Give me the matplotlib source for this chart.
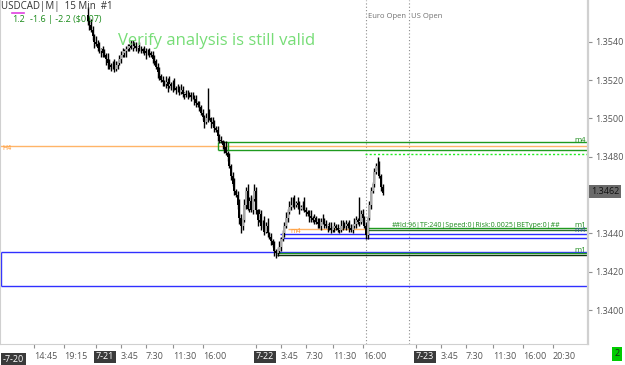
"""
USDCAD M15 chart with trade levels, MT4 style.
"""

import numpy as np
import matplotlib.pyplot as plt

plt.rcParams['font.family'] = ['Open Sans', 'DejaVu Sans']

# prices are pips above BASE; bar times are hours from 7-20 00:00
BASE = 1.3400
first_bar_hour = 22.75
first_open = 154
closes = [
    151, 149, 146, 143, 140, 139, 137, 135, 136, 134,
    133, 131, 129, 128, 127, 128, 126, 128, 129, 131,
    133, 134, 135, 136, 137, 138, 137, 139, 138, 137,
    137, 136, 136, 135, 135, 134, 135, 134, 133, 131,
    130, 127, 124, 122, 120, 119, 118, 119, 117, 118,
    117, 118, 116, 115, 116, 114, 115, 113, 113, 112,
    113, 112, 111, 111, 110, 108, 107, 106, 103, 101,
    98, 100, 103, 100, 98, 97, 95, 94, 91, 89,
    88, 86, 85, 82, 80, 75, 70, 66, 62, 60,
    55, 48, 44, 47, 55, 62, 53, 57, 52, 58,
    62, 52, 47, 50, 44, 46, 41, 44, 40, 38,
    36, 34, 31, 30, 31, 33, 37, 40, 44, 48,
    51, 54, 55, 57, 55, 56, 55, 53, 54, 55,
    52, 51, 50, 49, 48, 47, 48, 46, 45, 44,
    46, 47, 45, 44, 44, 43, 42, 43, 44, 43,
    42, 42, 44, 45, 44, 45, 44, 43, 42, 44,
    45, 47, 46, 46, 50, 48, 44, 39, 48, 55,
    62, 66, 72, 75, 76, 70, 64, 61,
]
wick_up = [
    4, 2, 3, 2, 1, 3, 2, 3, 1, 2,
    2, 1, 3, 2, 1, 2, 3, 2, 1, 2,
    2, 3, 1, 2, 2, 1, 3, 2, 1, 2,
    1, 3, 2, 1, 3, 2, 1, 2, 1, 2,
    2, 1, 2, 3, 1, 2, 1, 3, 2, 4,
    1, 2, 3, 1, 2, 1, 3, 2, 1, 2,
    2, 1, 2, 3, 1, 2, 1, 2, 1, 2,
    1, 3, 13, 2, 1, 3, 2, 1, 2, 1,
    2, 1, 2, 3, 1, 2, 1, 2, 3, 1,
    2, 3, 2, 1, 3, 2, 4, 2, 3, 1,
    4, 2, 1, 3, 2, 1, 3, 2, 4, 1,
    2, 1, 2, 1, 2, 3, 1, 2, 2, 3,
    2, 3, 4, 2, 3, 1, 3, 2, 1, 2,
    4, 2, 1, 2, 3, 1, 2, 1, 2, 3,
    2, 3, 1, 2, 1, 2, 3, 1, 2, 1,
    2, 1, 3, 2, 1, 2, 1, 3, 2, 1,
    3, 2, 1, 13, 2, 3, 1, 2, 1, 2,
    2, 1, 2, 2, 4, 2, 1, 2,
]
wick_dn = [
    2, 3, 1, 2, 3, 1, 2, 1, 3, 2,
    1, 3, 3, 2, 2, 1, 2, 1, 2, 1,
    2, 1, 2, 3, 1, 2, 1, 2, 1, 2,
    3, 1, 2, 1, 2, 3, 1, 2, 1, 2,
    2, 1, 3, 2, 1, 2, 1, 2, 3, 1,
    2, 3, 1, 2, 1, 2, 1, 2, 3, 1,
    2, 1, 2, 1, 3, 2, 1, 2, 1, 2,
    3, 1, 2, 1, 3, 1, 2, 1, 3, 2,
    1, 2, 3, 1, 2, 1, 2, 1, 2, 1,
    2, 3, 4, 2, 1, 2, 1, 2, 1, 2,
    1, 2, 3, 1, 2, 1, 2, 1, 2, 1,
    2, 1, 3, 3, 2, 1, 2, 1, 2, 1,
    2, 1, 2, 1, 2, 1, 2, 3, 1, 2,
    1, 2, 1, 3, 2, 1, 2, 1, 2, 1,
    2, 1, 2, 1, 3, 1, 2, 1, 2, 1,
    1, 2, 1, 2, 1, 2, 1, 2, 1, 2,
    1, 2, 1, 2, 1, 2, 1, 2, 2, 1,
    2, 1, 2, 1, 2, 1, 2, 1,
]

tick_hours = [14.75, 19.25, 24, 27.75, 31.5, 35.5, 40, 48, 51.75, 55.5,
              59.5, 64, 72, 75.75, 79.5, 83.5, 88, 92.5]
tick_labels = ['14:45', '19:15', '7-21', '3:45', '7:30', '11:30', '16:00',
               '7-22', '3:45', '7:30', '11:30', '16:00', '7-23', '3:45',
               '7:30', '11:30', '16:00', '20:30']
price_ticks = [1.3400, 1.3420, 1.3440, 1.3460, 1.3480, 1.3500, 1.3520, 1.3540]

# levels drawn by the EA
h4_price = 1.34856
m4_top, m4_bottom, m4_start, m4_box_end = 1.34877, 1.34835, 42.25, 43.8
target_price, target_start = 1.34814, 64.4
entry_top, entry_bottom, entry_start = 1.34428, 1.34418, 64.6
m4_small, m4_small_start, m4_small_end = 1.34423, 52.8, 64.6
blue_levels, blue_start = [1.34397, 1.34376], 51.6
m1_green, m1_black, m1_start = 1.34300, 1.34290, 51.15
zone_top, zone_bottom = 1.34303, 1.34125
euro_open, us_open = 64.5, 71.0
last_price = 1.3462

x_min, x_max = 9.6, 97.8
y_min, y_max = 1.33823, 1.35618

fig = plt.figure(figsize=(6.25, 3.65), dpi=100)
ax = fig.add_axes([0, 21 / 365, 588 / 625, 344 / 365])
ax.set_xlim(x_min, x_max)
ax.set_ylim(y_min, y_max)

# candles
c = BASE + np.array(closes) / 1e4
o = np.concatenate([[BASE + first_open / 1e4], c[:-1]])
hi = np.maximum(o, c) + np.array(wick_up) / 1e4
lo = np.minimum(o, c) - np.array(wick_dn) / 1e4
t = first_bar_hour + 0.25 * np.arange(len(closes))
up = c >= o
ax.vlines(t, lo, hi, color='black', lw=1.0, zorder=3)
body = np.maximum(np.abs(c - o), 0.00004)
ax.bar(t[up], body[up], bottom=o[up], width=0.3, color='#a8a8a8', lw=0, zorder=4)
ax.bar(t[~up], body[~up], bottom=c[~up], width=0.3, color='black', lw=0, zorder=4)

# levels
ax.axhline(h4_price, color='#ffb468', lw=1, zorder=2)
ax.hlines([m4_top, m4_bottom], m4_start, x_max, color='#1f9a1f', lw=1, zorder=2)
ax.vlines([m4_start, m4_box_end], m4_bottom, m4_top, color='#1f9a1f', lw=1, zorder=2)
ax.hlines(target_price, target_start, x_max, color='#22ee22', lw=1, ls=(0, (1.5, 1.5)), zorder=2)
ax.hlines(m4_small, m4_small_start, m4_small_end, color='#ffb468', lw=1, zorder=2)
ax.hlines(entry_top, entry_start, x_max, color='#1f9a1f', lw=1, zorder=2)
ax.hlines(entry_bottom, entry_start, x_max, color='#2a6e2a', lw=1, zorder=2)
ax.hlines(blue_levels, blue_start, x_max, color='#2b2bff', lw=1, zorder=2)
ax.hlines([zone_top, zone_bottom], x_min + 0.1, x_max, color='#3030ff', lw=1, zorder=2)
ax.vlines(x_min + 0.12, zone_bottom, zone_top, color='#3030ff', lw=1, zorder=2)
ax.hlines(m1_green, m1_start, x_max, color='#1f9a1f', lw=1, zorder=2.5)
ax.hlines(m1_black, m1_start, x_max, color='#103010', lw=1, zorder=2.5)

# session lines
for h, name in [(euro_open, 'Euro Open'), (us_open, 'US Open')]:
    ax.axvline(h, color='#8c8c8c', lw=0.8, ls=(0, (1, 2)), zorder=1)
    ax.text(h + 0.3, y_max - 0.00088, name, fontsize=5.5, color='#707070', va='center')

# labels
green = '#1a8a1a'
ax.text(1 / 588, 1 - 6 / 344, 'USDCAD|M|  15 Min  #1', transform=ax.transAxes,
        fontsize=7, color='#333333', va='center')
ax.text(12 / 588, 1 - 19 / 344, '1.2', transform=ax.transAxes, fontsize=6.5, color=green, va='center')
ax.text(30 / 588, 1 - 19 / 344, '-1.6 | -2.2 ($0.07)', transform=ax.transAxes,
        fontsize=6.5, color=green, va='center')
ax.plot([12 / 588, 24 / 588], [1 - 13 / 344] * 2, transform=ax.transAxes, color='#e040e0', lw=1.2)
ax.text(118 / 588, 1 - 41 / 344, 'Verify analysis is still valid', transform=ax.transAxes,
        fontsize=12, color='#77dd77', va='center')
ax.text(x_min + 0.3, h4_price - 0.00011, 'H4', fontsize=5, color='#ff9933', va='center')
ax.text(m4_small_start + 0.3, m4_small - 0.00011, 'm4', fontsize=5, color='#ff9933', va='center')
ax.text(97.5, m4_top + 0.00009, 'm4', fontsize=5.5, color=green, ha='right', va='center')
ax.text(97.5, entry_top + 0.00012, 'm1', fontsize=5.5, color=green, ha='right', va='center')
ax.text(97.5, entry_bottom - 0.00004, 'm4', fontsize=5.5, color='#3050a0', ha='right', va='center')
ax.text(97.5, m1_green + 0.00011, 'm1', fontsize=5.5, color=green, ha='right', va='center')
ax.text(93.6, entry_top + 0.00014, '##Id:96|TF:240|Speed:0|Risk:0.0025|BEType:0|##',
        fontsize=5, color=green, ha='right', va='center')

# axes styling
ax.spines['top'].set_visible(False)
ax.spines['right'].set_color('#d0d0d0')
ax.spines['right'].set_linewidth(1.6)
ax.spines['left'].set_color('#d0d0d0')
ax.spines['bottom'].set_color('#d0d0d0')
ax.yaxis.tick_right()
# the 1.3460 label sits under the last-price box
ax.set_yticks(price_ticks, ['' if p == 1.3460 else f'{p:.4f}' for p in price_ticks])
ax.tick_params(axis='y', length=3, width=0.8, color='#909090', labelcolor='#555555',
               labelsize=6.5, pad=2)
ax.set_xticks(tick_hours, tick_labels)
ax.tick_params(axis='x', length=3, width=0.8, color='#909090', labelcolor='#555555',
               labelsize=6.5, pad=3)
for lbl in ax.get_xticklabels():
    lbl.set_ha('left')
    if '-' in lbl.get_text():
        lbl.set_color('white')
        lbl.set_bbox(dict(boxstyle='square,pad=0.2', fc='#3a3a3a', ec='none'))
ax.text(13.2, -0.032, '-7-20', transform=ax.get_xaxis_transform(), fontsize=6.5,
        color='white', ha='right', va='top', clip_on=False,
        bbox=dict(boxstyle='square,pad=0.2', fc='#3a3a3a', ec='none'))

# last price box
ax.text(1.005, last_price, f'{last_price:.4f}', transform=ax.get_yaxis_transform(),
        fontsize=6.5, color='#111111', va='center', ha='left', clip_on=False,
        bbox=dict(boxstyle='square,pad=0.2', fc='#6a6a6a', ec='none'))
fig.text(617 / 625, 1 - 354 / 365, '2', fontsize=6.5, color='#222222', ha='center', va='center',
         bbox=dict(boxstyle='square,pad=0.25', fc='#00cc00', ec='none'))

fig.savefig('out.png', dpi=100)
plt.close(fig)
